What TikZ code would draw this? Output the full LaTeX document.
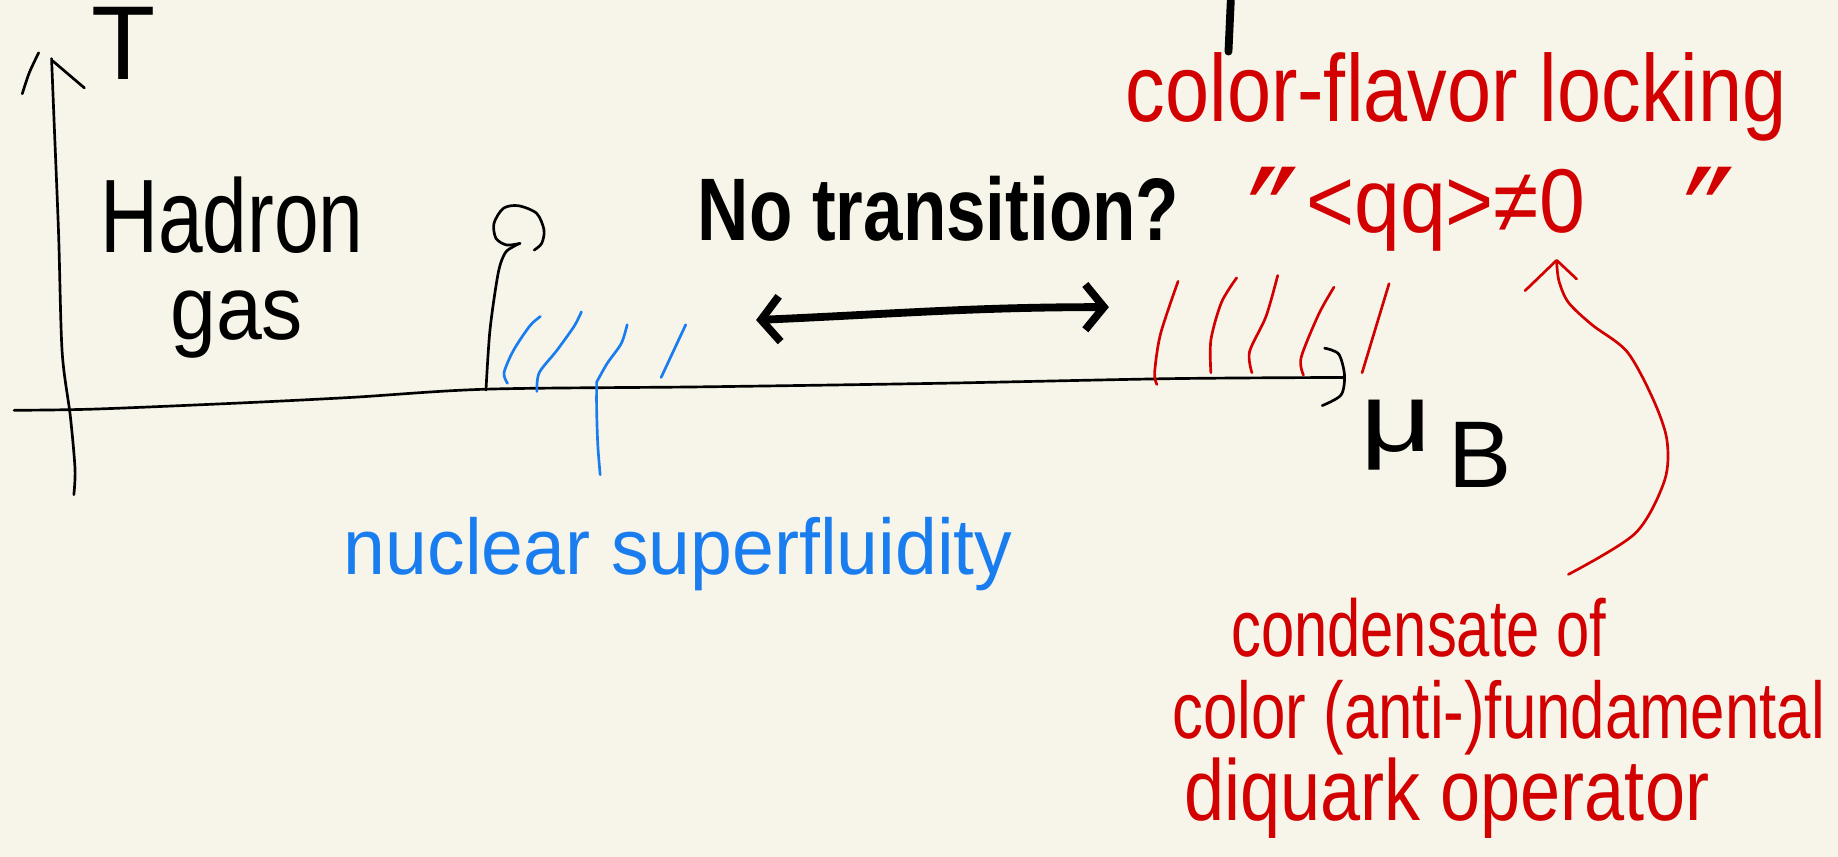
\documentclass[tikz,border=0pt]{standalone}
\usepackage{fontspec}
\setmainfont{Liberation Sans}
\newfontfamily\djv{DejaVu Sans}
\usetikzlibrary{arrows.meta}
\definecolor{paper}{RGB}{247,245,233}
\definecolor{inkred}{RGB}{210,0,0}
\definecolor{inkblue}{RGB}{25,125,240}
\newcommand{\hw}[3]{{\fontsize{#1}{#1}\selectfont\scalebox{1}[#2]{#3}}}
\newcommand{\hwx}[4]{{\fontsize{#1}{#1}\selectfont\scalebox{#2}[#3]{#4}}}
\begin{document}
\begin{tikzpicture}[x=0.02cm,y=-0.02cm,
  ink/.style={line width=1.3pt, line cap=round, line join=round},
  thickink/.style={line width=3.8pt, line cap=round, line join=round},
  lbl/.style={inner sep=0pt, anchor=base west}]
\fill[paper] (0,0) rectangle (1568,731);
\useasboundingbox (0,0) rectangle (1568,731);

% ---------- axes ----------
\draw[ink] plot[smooth] coordinates {(63,422) (64,400) (60,355) (53,300) (50,200) (46,100) (44,50)};
\draw[ink] (45,52) -- (72,75);
\draw[ink] plot[smooth] coordinates {(19,80) (25,62) (33,45)};
\draw[ink] plot[smooth] coordinates {(12,350) (80,349) (200,344) (300,339) (415,332) (600,330) (800,327) (1000,323) (1147,322)};
\draw[ink] plot[smooth] coordinates {(1130,297) (1142,302) (1147,320) (1144,337) (1128,346)};

\node[lbl] (T) at (78,68) {\hw{51}{1}{T}};
\node[lbl] (mu) at (1160,385) {\hwx{45}{1.35}{1.05}{μ}\hspace{8pt}\raisebox{-17.5pt}{\hw{46}{1}{B}}};

% ---------- hadron gas ----------
\node[lbl] (hadron) at (85,215) {\hw{39}{1.3}{Hadron}};
\node[lbl] (gas) at (145,290) {\hw{40}{1.1}{gas}};

% ---------- flag ----------
\draw[ink] plot[smooth] coordinates {(414.6,332.7) (418,281.5) (425,233) (430.8,216) (437.9,210.4) (443.6,207.6)};
\draw[ink] plot[smooth] coordinates {(443.6,207.6) (432.2,209) (423.1,203.3) (421.4,190.5) (429.4,177.7) (442.2,175.5) (457.8,182) (464.1,196.2) (462.1,207.6) (455.8,213.3)};

% ---------- blue hatches ----------
\begin{scope}[inkblue]
\draw[ink] plot[smooth] coordinates {(433,327) (430,318) (438,299) (452,278) (461,270)};
\draw[ink] plot[smooth] coordinates {(458,334) (460,318) (475,299) (490,278) (496,266)};
\draw[ink] plot[smooth] coordinates {(509,326) (518,310) (530,293) (535,277)};
\draw[ink] plot[smooth] coordinates {(509,326) (509,350) (510,380) (512,405)};
\draw[ink] (564,322) -- (585,277);
\node[lbl] (nuc) at (293,490) {\hw{36.5}{1.05}{nuclear superfluidity}};
\end{scope}

% ---------- no transition ----------
\node[lbl] (notrans) at (595,205) {\hw{34.5}{1.25}{\bfseries No transition?}};
\coordinate (dl) at (645,273);
\coordinate (dr) at (946,262);
\draw[thickink, {Straight Barb[length=9pt,width=22pt]}-{Straight Barb[length=9pt,width=22pt]}] (dl) .. controls (760,268) and (830,262) .. (dr);
\draw[thickink] (1050,0) -- (1048,44);

% ---------- red hatches ----------
\begin{scope}[inkred]
\draw[ink] plot[smooth] coordinates {(987,328) (985,318) (990,285) (1005,240)};
\draw[ink] plot[smooth] coordinates {(1033,318) (1033,290) (1042,258) (1055,237)};
\draw[ink] plot[smooth] coordinates {(1068,318) (1066,300) (1080,270) (1090,235)};
\draw[ink] plot[smooth] coordinates {(1112,320) (1110,305) (1125,268) (1138,245)};
\draw[ink] plot[smooth] coordinates {(1162,318) (1175,275) (1185,242)};

\node[lbl] (cfl) at (960,104) {\hw{38.5}{1.2}{color-flavor locking}};
\node[lbl] (qq) at (1064,198) {\hw{40}{1.1}{\raisebox{-21pt}{\djv\scalebox{1.7}{″}}\hspace{3pt}<qq>≠0\hspace{48pt}\raisebox{-21pt}{\djv\scalebox{1.7}{″}}}};

\node[lbl] (cond1) at (1050,560) {\hw{29}{1.35}{condensate of}};
\node[lbl] (cond2) at (1000,630) {\hw{30}{1.3}{color (anti-)fundamental}};
\node[lbl] (cond3) at (1010,700) {\hw{35}{1.2}{diquark operator}};

\coordinate (ra) at (1338,490);
\coordinate (rb) at (1328,224);
\draw[ink] plot[smooth] coordinates {(1338,490) (1395,455) (1420,410) (1422,375) (1410,340) (1388,300) (1358,277) (1338,258) (1330,240) (1328,224)};
\draw[ink] (1301,248) -- (1328,222) -- (1345,238);
\end{scope}
\end{tikzpicture}
\end{document}
